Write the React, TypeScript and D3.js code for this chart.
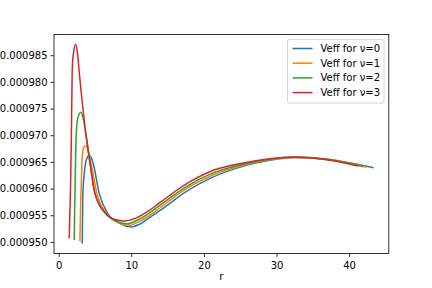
import React from "react";
import * as d3 from "d3";

// r values and Veff (in units of 1e-6)
const rNu0 = [3.17, 3.26, 3.42, 3.58, 3.76, 4.13, 4.45, 4.72, 5.51, 6.65, 8.3, 9.9, 11.2, 12.4, 13.9, 17.8, 20.8, 25.4, 29.0, 32.5, 37.0, 40.5, 43.3];
const vNu0 = [949.8, 959.2, 962.4, 964.4, 965.6, 966.3, 965.8, 964.6, 959.2, 955.5, 953.6, 952.9, 953.5, 954.6, 956.0, 959.8, 962.0, 964.3, 965.4, 965.9, 965.5, 964.8, 964.0];

const rNu1 = [2.85, 2.96, 3.07, 3.17, 3.37, 3.68, 4.0, 4.41, 5.19, 6.54, 8.3, 9.6, 11.0, 12.4, 13.9, 17.8, 20.8, 25.4, 29.0, 32.4, 37.0, 40.0, 42.4];
const vNu1 = [950.2, 957.5, 962.1, 966.0, 967.8, 968.1, 967.1, 964.7, 959.2, 955.4, 953.6, 953.2, 953.9, 955.0, 956.5, 960.3, 962.4, 964.5, 965.5, 965.9, 965.6, 964.9, 964.1];

const rNu2 = [2.07, 2.13, 2.2, 2.34, 2.55, 2.99, 3.31, 3.72, 4.27, 4.92, 6.47, 8.0, 9.4, 10.8, 12.4, 13.9, 17.8, 20.8, 25.4, 29.0, 32.3, 37.0, 39.5, 41.9];
const vNu2 = [950.45, 956.5, 961.5, 970.0, 973.2, 974.4, 973.2, 970.0, 964.8, 959.2, 955.3, 953.9, 953.5, 954.2, 955.5, 957.0, 960.7, 962.8, 964.7, 965.6, 966.0, 965.6, 965.0, 964.2];

const rNu3 = [1.38, 1.5, 1.58, 1.69, 1.79, 1.93, 2.25, 2.48, 2.75, 3.21, 3.58, 4.27, 4.92, 6.57, 8.0, 8.9, 10.5, 12.4, 13.9, 17.8, 20.8, 25.4, 29.0, 32.3, 36.0, 39.0, 41.2];
const vNu3 = [950.75, 957.0, 961.5, 971.3, 982.0, 985.1, 987.1, 986.0, 982.0, 975.8, 971.3, 964.6, 959.2, 955.2, 954.2, 954.0, 954.5, 956.0, 957.5, 961.2, 963.3, 964.9, 965.7, 966.0, 965.7, 965.0, 964.3];

const labels = ["Veff for ν=0", "Veff for ν=1", "Veff for ν=2", "Veff for ν=3"];
const colors = ["#1f77b4", "#ff7f0e", "#2ca02c", "#d62728"];
const xTicks = [0, 10, 20, 30, 40];
const yTicks = [0.00095, 0.000955, 0.00096, 0.000965, 0.00097, 0.000975, 0.00098, 0.000985];

const series = [
  [rNu0, vNu0],
  [rNu1, vNu1],
  [rNu2, vNu2],
  [rNu3, vNu3],
].map(([rs, vs]) => rs.map((r, i) => ({ r, v: vs[i] * 1e-6 })));

export default function App() {
  const width = 432;
  const height = 288;
  const left = 54, right = 388.8, top = 34.56, bottom = 253.44;

  const allR = series.flat().map((d) => d.r);
  const allV = series.flat().map((d) => d.v);
  const [rMin, rMax] = d3.extent(allR) as [number, number];
  const [vMin, vMax] = d3.extent(allV) as [number, number];
  const rPad = (rMax - rMin) * 0.05;
  const vPad = (vMax - vMin) * 0.05;

  const x = d3.scaleLinear().domain([rMin - rPad, rMax + rPad]).range([left, right]);
  const y = d3.scaleLinear().domain([vMin - vPad, vMax + vPad]).range([bottom, top]);

  const line = d3
    .line<{ r: number; v: number }>()
    .x((d) => x(d.r))
    .y((d) => y(d.v))
    .curve(d3.curveMonotoneX);

  const fmt = d3.format(".6f");
  const font = "DejaVu Sans, sans-serif";

  const legX = 287.5, legY = 39.5, legW = 96.5, legH = 63.5;

  return (
    <div style={{ position: "absolute", left: 0, top: 0 }}>
      <svg width={width} height={height} style={{ display: "block", background: "white" }}>
        <g>
          {series.map((s, i) => (
            <path key={i} d={line(s) || ""} fill="none" stroke={colors[i]} strokeWidth={1.5} />
          ))}
        </g>
        <rect x={left} y={top} width={right - left} height={bottom - top} fill="none" stroke="black" strokeWidth={0.8} />
        {xTicks.map((t) => (
          <g key={t} transform={`translate(${x(t)},${bottom})`}>
            <line y2={3.5} stroke="black" strokeWidth={0.8} />
            <text y={15.5} textAnchor="middle" fontSize={10} fontFamily={font} fill="black">
              {t}
            </text>
          </g>
        ))}
        {yTicks.map((t) => (
          <g key={t} transform={`translate(${left},${y(t)})`}>
            <line x2={-3.5} stroke="black" strokeWidth={0.8} />
            <text x={-6.5} dy="0.32em" textAnchor="end" fontSize={10} fontFamily={font} fill="black">
              {fmt(t)}
            </text>
          </g>
        ))}
        <text x={(left + right) / 2} y={280} textAnchor="middle" fontSize={10} fontFamily={font} fill="black">
          r
        </text>
        <rect x={legX} y={legY} width={legW} height={legH} rx={2} fill="white" fillOpacity={0.8} stroke="#cccccc" strokeWidth={0.8} />
        {labels.map((l, i) => (
          <g key={l} transform={`translate(${legX + 5},${legY + 9 + i * 14.7})`}>
            <line x1={0} x2={20} stroke={colors[i]} strokeWidth={1.5} />
            <text x={28} dy="0.35em" fontSize={10} fontFamily={font} fill="black">
              {l}
            </text>
          </g>
        ))}
      </svg>
    </div>
  );
}
